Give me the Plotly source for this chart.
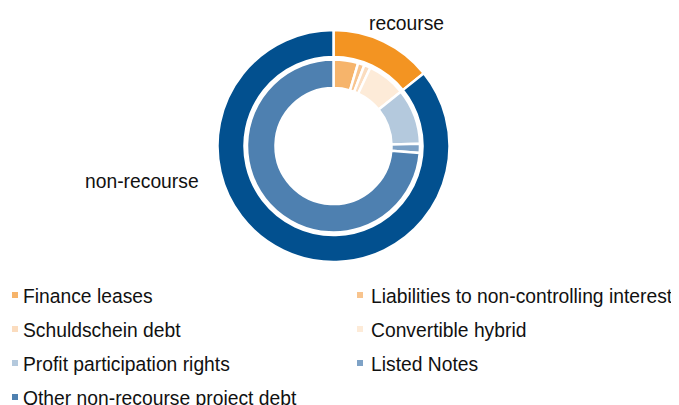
import plotly.graph_objects as go

W, H = 679, 405
OX, OY = 8, 8  # page body margin offset

# Outer ring
outer_labels = ["recourse", "non-recourse"]
outer_values = [14.2, 85.8]
outer_colors = ["#F39422", "#02508F"]

# Inner ring
inner_labels = [
    "Finance leases",
    "Liabilities to non-controlling interests",
    "Schuldschein debt",
    "Convertible hybrid",
    "Profit participation rights",
    "Listed Notes",
    "Other non-recourse project debt",
]
inner_values = [4.6, 1.2, 1.2, 7.2, 10.4, 1.7, 73.7]
inner_colors = ["#F6B46B", "#F8C48E", "#FBDCBE", "#FDEBD8", "#B4C9DD", "#7EA2C6", "#4E80B0"]

FONT = "Liberation Sans, Arial, sans-serif"
FS = 19.3

cx, cy = 333.5, 146
R_out, R_out_in = 116, 89
R_in, R_in_in = 86.5, 58


def px(x):
    return (x - OX) / W


def py(y):
    return 1 - (y - OY) / H


def dom(r):
    return dict(x=[px(cx - r), px(cx + r)], y=[py(cy + r), py(cy - r)])


fig = go.Figure()
fig.add_trace(go.Pie(
    labels=outer_labels, values=outer_values, sort=False, direction="clockwise", rotation=0,
    hole=R_out_in / R_out, domain=dom(R_out), textinfo="none", hoverinfo="label+value",
    marker=dict(colors=outer_colors, line=dict(color="white", width=2.5)), showlegend=False,
))
fig.add_trace(go.Pie(
    labels=inner_labels, values=inner_values, sort=False, direction="clockwise", rotation=0,
    hole=R_in_in / R_in, domain=dom(R_in), textinfo="none", hoverinfo="label+value",
    marker=dict(colors=inner_colors, line=dict(color="white", width=2.5)), showlegend=False,
))

annotations = []
shapes = []

# ring labels
annotations.append(dict(text="recourse", x=px(367), y=py(23.5), xref="paper", yref="paper",
                        xanchor="left", yanchor="middle", showarrow=False,
                        font=dict(family=FONT, size=FS, color="#111")))
annotations.append(dict(text="non-recourse", x=px(83), y=py(181.5), xref="paper", yref="paper",
                        xanchor="left", yanchor="middle", showarrow=False,
                        font=dict(family=FONT, size=FS, color="#111")))

# custom legend (two columns)
col_sq_x = [12, 357]
col_tx_x = [21, 369]
row_y = [295, 329, 363, 397]
for i, (lab, col) in enumerate(zip(inner_labels, inner_colors)):
    c, r = i % 2, i // 2
    yc = row_y[r]
    shapes.append(dict(type="rect", xref="paper", yref="paper",
                       x0=px(col_sq_x[c]), x1=px(col_sq_x[c] + 6),
                       y0=py(yc + 3), y1=py(yc - 3),
                       fillcolor=col, line=dict(width=0)))
    annotations.append(dict(text=lab, x=px(col_tx_x[c]), y=py(yc + 1), xref="paper", yref="paper",
                            xanchor="left", yanchor="middle", showarrow=False,
                            font=dict(family=FONT, size=FS, color="#111")))

fig.update_layout(
    width=W, height=H, margin=dict(l=0, r=0, t=0, b=0),
    paper_bgcolor="white", plot_bgcolor="white",
    annotations=annotations, shapes=shapes, showlegend=False,
)

fig.write_html("out.html")
